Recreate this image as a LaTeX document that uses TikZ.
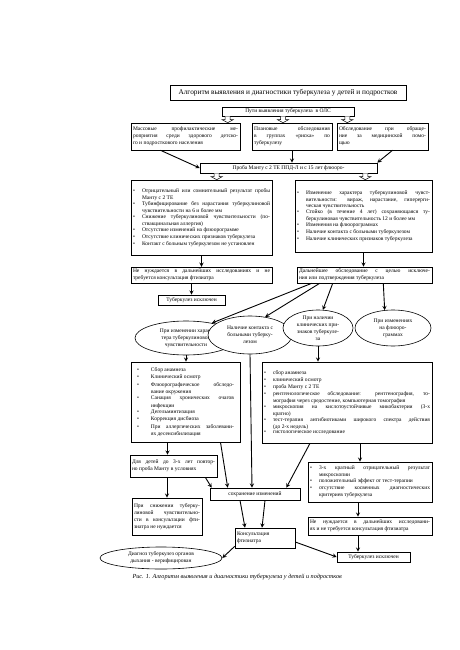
\documentclass[tikz,border=0pt]{standalone}
\usepackage{fontspec}
\setmainfont{Liberation Serif}
\usepackage{tikz}
\usetikzlibrary{calc, shapes.geometric, positioning}

\newcommand{\chu}{\fontsize{5.5}{6.9}\selectfont}
\newcommand{\muc}[2][9pt]{\noindent\makebox[#1][l]{\textbullet}%
  \parbox[t]{\dimexpr\hsize-#1\relax}{#2}\par}
\newcommand{\muiten}[2]{%
  \draw[fill=white, line width=0.5pt] let \p1=#1, \p2=#2 in
    (\x1-2.5pt,\y1) -- (\x1-2.5pt,\y2+3pt) -- (\x1-5.5pt,\y2+3pt) -- (\x1,\y2)
    -- (\x1+5.5pt,\y2+3pt) -- (\x1+2.5pt,\y2+3pt) -- (\x1+2.5pt,\y1);}

\begin{document}
\begin{tikzpicture}[x=1pt, y=-1pt, >=stealth,
    hop/.style={draw, fill=white, line width=0.6pt, inner sep=2pt, font=\chu, align=justify},
    hopgiua/.style={hop, align=center},
    elip/.style={ellipse, draw, fill=white, line width=0.6pt, inner sep=0pt, font=\chu, align=center},
    mui/.style={->, line width=0.9pt}]

    \path[use as bounding box, fill=white] (0,0) rectangle (459,650);

    % =================================================================
    % 1. TIÊU ĐỀ VÀ CÁC HỘP PHÍA TRÊN
    % =================================================================
    \node[hopgiua, minimum width=236pt, minimum height=15pt, font=\fontsize{7.3}{9}\selectfont]
        (tieude) at (288,92.5) {Алгоритм выявления и диагностики туберкулеза у детей и подростков};
    \node[hopgiua, minimum width=132pt, minimum height=9pt, inner sep=1pt]
        (puti) at (288,111.5) {Пути выявления туберкулеза \ в ОЛС};

    \node[hop, text width=105pt, minimum height=27pt] (massovye) at (185.5,136.5)
        {Массовые профилактические ме-\linebreak роприятия среди здорового детско-\linebreak го и подросткового населения};
    \node[hop, text width=76pt, minimum height=27pt] (planovye) at (292,136.5)
        {Плановые обследования\linebreak в группах «риска» по\linebreak туберкулезу};
    \node[hop, text width=87pt, minimum height=27pt] (obrash) at (382.5,136.5)
        {Обследование при обраще-\linebreak ние за медицинской помо-\linebreak щью};

    \node[hopgiua, minimum width=177pt, minimum height=10pt, inner sep=1pt]
        (mantu) at (288.5,168) {Проба Манту с 2 ТЕ ППД-Л и с 15 лет флюоро-};

    % Hai cột danh sách
    \node[hop, text width=137pt, minimum height=75pt] (dsl) at (201.5,217.5) {%
        \muc{Отрицательный или сомнительный результат пробы\linebreak Манту с 2 ТЕ}
        \muc{Тубинфицирование без нарастания туберкулиновой\linebreak чувствительности на 6 и более мм}
        \muc{Снижение туберкулиновой чувствительности (по-\linebreak ствакцинальная аллергия)}
        \muc{Отсутствие изменений на флюорограмме}
        \muc{Отсутствие клинических признаков туберкулеза}
        \muc{Контакт с больным туберкулезом не установлен}};
    \node[hop, text width=133pt, minimum height=72pt] (dsr) at (363.5,216) {%
        \muc{Изменение характера туберкулиновой чувст-\linebreak вительности: вираж, нарастание, гиперерги-\linebreak ческая чувствительность}
        \muc{Стойко (в течение 4 лет) сохраняющаяся ту-\linebreak беркулиновая чувствительность 12 и более мм}
        \muc{Изменения на флюорограммах}
        \muc{Наличие контакта с больными туберкулезом}
        \muc{Наличие клинических признаков туберкулеза}};

    \node[hop, text width=137pt, minimum height=14pt] (nenl) at (201.5,275)
        {Не нуждается в дальнейших исследованиях и не\linebreak требуется консультация фтизиатра};
    \node[hop, text width=131pt, minimum height=14pt] (dal) at (364.5,275)
        {Дальнейшее обследование с целью исключе-\linebreak ния или подтверждения туберкулеза};
    \node[hopgiua, minimum width=67pt, minimum height=10pt, inner sep=1pt]
        (iskl1) at (191.5,300) {Туберкулез исключен};

    % =================================================================
    % 2. CÁC HÌNH ELIP
    % =================================================================
    \node[elip, minimum width=102pt, minimum height=34pt] (e1) at (186,338)
        {При изменении харак-\\тера туберкулиновой\\чувствительности};
    \node[elip, minimum width=84pt, minimum height=38pt] (e2) at (250,335)
        {Наличие контакта с\\больными туберку-\\лезом};
    \node[elip, minimum width=70pt, minimum height=36pt] (e3) at (318,328)
        {При наличии\\клинических при-\\знаков туберкуле-\\за};
    \node[elip, minimum width=76pt, minimum height=36pt] (e4) at (393,328)
        {При изменениях\\на флюоро-\\граммах};

    % =================================================================
    % 3. CÁC HỘP PHÍA DƯỚI
    % =================================================================
    \node[hop, text width=97pt, inner xsep=6pt, minimum height=80pt, font=\fontsize{5.5}{7.6}\selectfont]
        (actl) at (185.5,402) {%
        \muc[14pt]{Сбор анамнеза}
        \muc[14pt]{Клинический осмотр}
        \muc[14pt]{Флюорографическое обследо-\linebreak вание окружения}
        \muc[14pt]{Санация хронических очагов\linebreak инфекции}
        \muc[14pt]{Дегельминтизация}
        \muc[14pt]{Коррекция дисбиоза}
        \muc[14pt]{При аллергических заболевани-\linebreak ях десенсибилизация}};
    \node[hop, text width=166pt, minimum height=81pt] (actr) at (347,402.5) {%
        \muc{сбор анамнеза}
        \muc{клинический осмотр}
        \muc{проба Манту с 2 ТЕ}
        \muc{рентгенологическое обследование: рентгенография, то-\linebreak мография через средостение, компьютерная томография}
        \muc{микроскопия на кислотоустойчивые микобактерии (3-х\linebreak кратно)}
        \muc{тест-терапия антибиотиками широкого спектра действия\linebreak (до 2-х недель)}
        \muc{гистологическое исследование}};

    \node[hop, text width=83pt, minimum height=22pt] (deti) at (173.5,466)
        {Для детей до 3-х лет повтор-\linebreak но проба Манту в условиях};
    \node[hop, text width=120pt, minimum height=40pt] (kritr) at (370,482) {%
        \muc{3-х кратный отрицательный результат\linebreak микроскопии}
        \muc{положительный эффект от тест-терапии}
        \muc{отсутствие косвенных диагностических\linebreak критериев туберкулеза}};
    \node[hop, text width=66pt, minimum height=37pt] (snizh) at (167,516.5)
        {При снижении туберку-\linebreak линовой чувствительно-\linebreak сти в консультации фти-\linebreak зиатра не нуждается};
    \node[hopgiua, minimum width=90pt, minimum height=12pt, inner sep=1pt]
        (sohr) at (255,494) {сохранение изменений};
    \node[hop, text width=120pt, minimum height=18pt] (nenr) at (370,526)
        {Не нуждается в дальнейших исследовани-\linebreak ях и не требуется консультация фтизиатра};
    \node[hop, text width=56pt, minimum height=20pt, align=left] (kons) at (265,538)
        {Консультация\\фтизиатра};
    \node[elip, minimum width=122pt, minimum height=22pt] (diag) at (161,558)
        {Диагноз туберкулез органов\\дыхания - верифицирован};
    \node[hopgiua, minimum width=73pt, minimum height=10pt, inner sep=1pt]
        (iskl2) at (373.5,557) {Туберкулез исключен};

    \node[anchor=west, font=\fontsize{6.2}{7}\selectfont\itshape] (chuthich) at (129,577)
        {Рис. 1. Алгоритм выявления и диагностики туберкулеза у детей и подростков};

    % =================================================================
    % 4. MŨI TÊN RỖNG
    % =================================================================
    \coordinate (p1) at ([xshift=6pt]puti.south west);
    \coordinate (p2) at ([xshift=-5pt]puti.south);
    \coordinate (p3) at ([xshift=-7pt]puti.south east);
    \coordinate (p4) at ([xshift=17pt]mantu.south west);
    \coordinate (p5) at ([xshift=-12pt]mantu.south east);
    \muiten{(p1)}{(p1 |- massovye.north)}
    \muiten{(p2)}{(p2 |- planovye.north)}
    \muiten{(p3)}{(p3 |- obrash.north)}
    \muiten{(p4)}{(p4 |- dsl.north)}
    \muiten{(p5)}{(p5 |- dsr.north)}

    % =================================================================
    % 5. MŨI TÊN NỐI CÁC HỘP
    % =================================================================
    \draw[mui] ([xshift=-25pt]massovye.south) -- (mantu.west);
    \draw[mui] (planovye.south) -- (planovye.south |- mantu.north);
    \draw[mui] ([xshift=10pt]obrash.south) -- (mantu.north east);
    \draw[mui] (dsl.south) -- (dsl.south |- nenl.north);
    \draw[mui] (dsr.south) -- (dsr.south |- dal.north);
    \draw[mui] (iskl1.north |- nenl.south) -- (iskl1.north);

    \draw[mui] ([xshift=15pt]dal.south west) -- (e1.30);
    \draw[mui] ([xshift=23pt]dal.south west) -- (e2.50);
    \draw[mui] ([xshift=36pt]dal.south west) -- (e3.75);
    \draw[mui] ([xshift=-49pt]dal.south east) -- (e4.115);

    \draw[mui] (e1.south) -- (e1.south |- actl.north);
    \draw[mui] (e3.south) -- (e3.south |- actr.north);
    \draw[mui] (e2.south) -- ([xshift=-3pt]sohr.north);

    \coordinate (p6) at ([xshift=-18pt]actl.south);
    \draw[mui] (p6) -- (p6 |- deti.north);
    \draw[mui] ([xshift=35pt]actl.south) -- ([xshift=18pt]sohr.north west);
    \draw[mui] (snizh.north |- deti.south) -- (snizh.north);
    \draw[mui] ([xshift=-12pt]deti.south east) -- ([xshift=2pt]sohr.north west);
    \draw[mui] ([xshift=-37pt]actr.south) -- ([xshift=-14pt]sohr.north east);

    \coordinate (p7) at ([xshift=-10pt]kritr.north);
    \draw[mui] (p7 |- actr.south) -- (p7);
    \coordinate (p8) at ([xshift=-12pt]kritr.south);
    \draw[mui] (p8) -- (p8 |- nenr.north);
    \coordinate (p9) at ([xshift=-12pt]nenr.south);
    \draw[mui] (p9) -- (p9 |- iskl2.north);

    \draw[mui] ([xshift=-15pt]sohr.south) -- ([xshift=-20pt]kons.north);
    \draw[mui] ([xshift=10pt]sohr.south) -- ([xshift=-3pt]kons.north);
    \draw[mui] ([yshift=-4pt]kons.east) -- (iskl2.west);
    \draw[mui] ([yshift=2pt]kons.south west) -- (diag.east);

\end{tikzpicture}
\end{document}
